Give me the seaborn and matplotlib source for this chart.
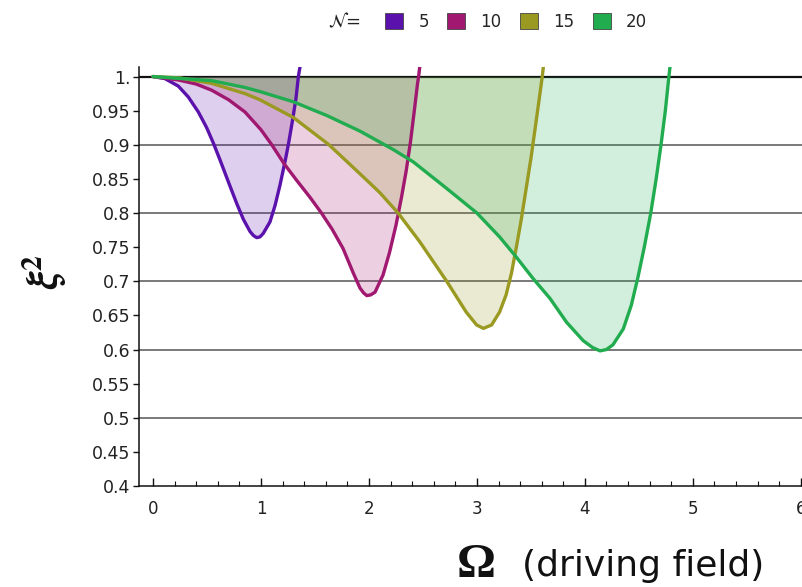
import numpy as np
import pandas as pd
import matplotlib
matplotlib.use("Agg")
import matplotlib.pyplot as plt
from matplotlib.patches import Patch
import seaborn as sns

# Squeezing parameter xi^2 versus driving field Omega for several atom numbers N
n_values = [5, 10, 15, 20]
colors = ["#5B12AC", "#A01870", "#9A9A22", "#22AC50"]

omega_5 = [0, 0.11, 0.234, 0.327, 0.42, 0.497, 0.56, 0.62, 0.697, 0.775, 0.836,
           0.898, 0.93, 0.96, 0.99, 1.02, 1.083, 1.13, 1.176, 1.222, 1.253, 1.29,
           1.324, 1.346, 1.361]
xi2_5 = [1.0, 0.997, 0.986, 0.970, 0.948, 0.925, 0.902, 0.878, 0.846, 0.814, 0.791,
         0.773, 0.767, 0.764, 0.765, 0.770, 0.787, 0.811, 0.841, 0.875, 0.90, 0.934,
         0.968, 1.0, 1.014]

omega_10 = [0, 0.234, 0.4, 0.543, 0.7, 0.852, 1.0, 1.1, 1.215, 1.33, 1.454, 1.56,
            1.66, 1.76, 1.855, 1.917, 1.95, 1.98, 2.015, 2.056, 2.13, 2.19, 2.25,
            2.30, 2.345, 2.385, 2.42, 2.45, 2.46, 2.47]
xi2_10 = [1.0, 0.995, 0.989, 0.980, 0.966, 0.948, 0.922, 0.900, 0.872, 0.848, 0.823,
          0.800, 0.776, 0.748, 0.712, 0.690, 0.683, 0.679, 0.680, 0.684, 0.709, 0.742,
          0.782, 0.822, 0.862, 0.905, 0.950, 0.990, 1.0, 1.014]

omega_15 = [0, 0.25, 0.543, 0.852, 0.99, 1.3, 1.63, 1.92, 2.10, 2.27, 2.47, 2.72,
            2.90, 2.997, 3.06, 3.136, 3.21, 3.27, 3.32, 3.365, 3.41, 3.455, 3.50,
            3.54, 3.575, 3.605, 3.615]
xi2_15 = [1.0, 0.998, 0.990, 0.975, 0.966, 0.940, 0.900, 0.857, 0.830, 0.800, 0.758,
          0.700, 0.655, 0.636, 0.631, 0.636, 0.655, 0.680, 0.712, 0.750, 0.790, 0.835,
          0.880, 0.925, 0.965, 1.0, 1.014]

omega_20 = [0, 0.543, 0.852, 0.99, 1.3, 1.608, 1.917, 2.225, 2.41, 2.72, 3.0, 3.21,
            3.367, 3.52, 3.676, 3.83, 3.984, 4.07, 4.14, 4.2, 4.26, 4.355, 4.43,
            4.49, 4.55, 4.61, 4.66, 4.705, 4.745, 4.778, 4.788]
xi2_20 = [1.0, 0.994, 0.984, 0.978, 0.963, 0.943, 0.920, 0.893, 0.875, 0.836, 0.800,
          0.765, 0.735, 0.704, 0.675, 0.640, 0.613, 0.603, 0.598, 0.600, 0.607, 0.630,
          0.665, 0.705, 0.750, 0.800, 0.850, 0.900, 0.950, 1.0, 1.014]

omegas = [omega_5, omega_10, omega_15, omega_20]
xi2s = [xi2_5, xi2_10, xi2_15, xi2_20]

ytick_values = [0.4, 0.45, 0.5, 0.55, 0.6, 0.65, 0.7, 0.75, 0.8, 0.85, 0.9, 0.95, 1.0]
ytick_labels = ["0.4", "0.45", "0.5", "0.55", "0.6", "0.65", "0.7", "0.75", "0.8",
                "0.85", "0.9", "0.95", "1."]
grid_levels = [0.5, 0.6, 0.7, 0.8, 0.9]

df = pd.concat(
    [pd.DataFrame({"Omega": o, "xi2": v, "N": n}) for o, v, n in zip(omegas, xi2s, n_values)],
    ignore_index=True,
)

sns.set_theme(style="white")
plt.rcParams["font.family"] = ["DejaVu Sans"]
plt.rcParams["mathtext.fontset"] = "dejavusans"

fig = plt.figure(figsize=(8.03, 5.87), dpi=100)
ax = fig.add_axes([139 / 803, 101 / 587, 664 / 803, 419 / 587])

# horizontal reference lines
for g in grid_levels:
    ax.axhline(g, color="#555555", lw=1.1, zorder=1)
ax.axhline(1.0, color="#111111", lw=1.6, zorder=1)

# shaded region between each curve and 1
for (n, sub), c in zip(df.groupby("N", sort=True), colors):
    ax.fill_between(sub["Omega"], np.minimum(sub["xi2"], 1.0), 1.0,
                    color=c, alpha=0.2, lw=0, zorder=2)

sns.lineplot(data=df, x="Omega", y="xi2", hue="N", palette=colors, sort=False,
             estimator=None, legend=False, lw=2.4, ax=ax, zorder=3)
for line in ax.get_lines():
    line.set_solid_joinstyle("round")

ax.set_xlim(-0.13, 6.02)
ax.set_ylim(0.4, 1.014)
ax.set_xticks(range(7))
ax.set_xticks(np.arange(0, 6.01, 0.2), minor=True)
ax.set_yticks(ytick_values)
ax.set_yticklabels(ytick_labels)
ax.set_xlabel("")
ax.set_ylabel("")

for side in ["top", "right"]:
    ax.spines[side].set_visible(False)
for side in ["left", "bottom"]:
    ax.spines[side].set_color("#111111")
    ax.spines[side].set_linewidth(1.1)

ax.tick_params(axis="x", which="major", direction="in", length=6, width=1,
               color="#111111", labelsize=12, pad=10, labelcolor="#222222")
ax.tick_params(axis="x", which="minor", direction="in", length=3.5, width=0.8,
               color="#111111")
ax.tick_params(axis="y", which="major", direction="out", length=4, width=1,
               color="#111111", labelsize=12.5, pad=2, labelcolor="#222222")
ax.tick_params(bottom=True, left=True, which="both")
ax.tick_params(axis="y", which="minor", left=False)

# axis titles
fig.text(44 / 803, 1 - 272 / 587, r"$\boldsymbol{\xi}^{\mathbf{2}}$", rotation=90,
         fontsize=30, ha="center", va="center", color="#111111",
         math_fontfamily="stix")
fig.text(457 / 803, 1 - 577 / 587, "Ω", family="Liberation Serif", weight="bold",
         fontsize=35, ha="left", va="baseline", color="#111111")
fig.text(522 / 803, 1 - 576 / 587, "(driving field)", fontsize=26,
         ha="left", va="baseline", color="#111111")

# legend row
handles = [Patch(facecolor=c, edgecolor="#444444", lw=0.6) for c in colors]
fig.legend(handles, [str(n) for n in n_values], loc="center left",
           bbox_to_anchor=(385 / 803, 1 - 22 / 587), ncol=4, frameon=False,
           handlelength=1.1, handleheight=1.1, handletextpad=0.9,
           columnspacing=1.1, fontsize=12, borderpad=0, borderaxespad=0)
fig.text(328 / 803, 1 - 22 / 587, r"$\mathcal{N}$=", fontsize=13,
         ha="left", va="center", color="#222222")

fig.savefig("out.png", dpi=100)
